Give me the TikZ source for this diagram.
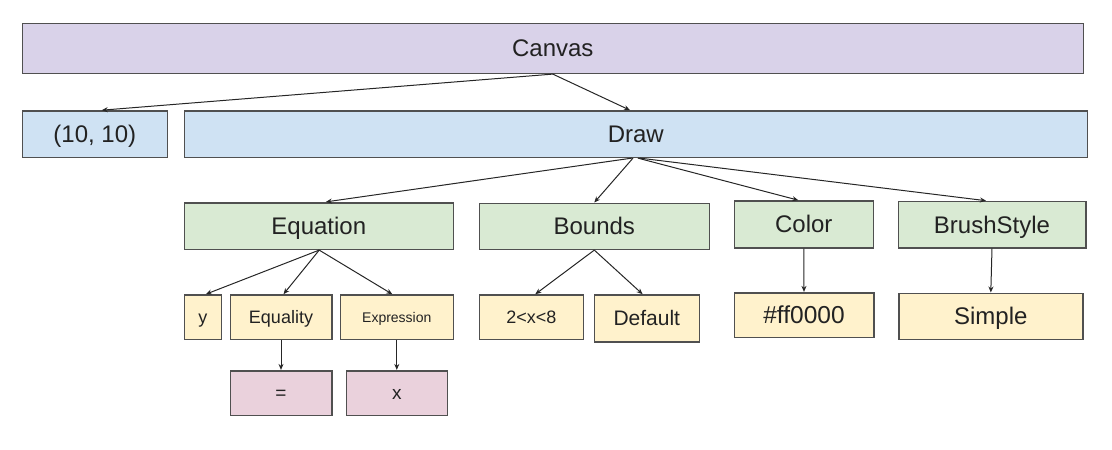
\documentclass[tikz,border=0pt]{standalone}
\usepackage{fontspec}
\setmainfont{Liberation Sans}
\usetikzlibrary{arrows.meta}
\definecolor{lav}{HTML}{D9D2E9}
\definecolor{blu}{HTML}{CFE2F3}
\definecolor{grn}{HTML}{D9EAD3}
\definecolor{yel}{HTML}{FFF2CC}
\definecolor{pnk}{HTML}{EAD1DC}
\definecolor{bordercol}{HTML}{505050}
\definecolor{txtcol}{HTML}{222222}
\newcommand\fs[1]{\fontsize{#1}{#1}\selectfont}
\newcommand\bx[8]{\node[#1, font=\fs{#2}, text height={0.716*#2pt}, text depth=0pt, minimum width={#5pt-#3pt}, minimum height={#6pt-#4pt}] (#7) at ({(#3+#5)/2},{-(#4+#6)/2}) {#8};}
\begin{document}
\begin{tikzpicture}[x=1pt,y=1pt,
  box/.style={draw=bordercol, line width=1.6pt, inner sep=0pt, text=txtcol},
  lavbox/.style={box, fill=lav},
  blubox/.style={box, fill=blu},
  grnbox/.style={box, fill=grn},
  yelbox/.style={box, fill=yel},
  pnkbox/.style={box, fill=pnk},
  arr/.style={draw=black!85, line width=1pt, -{Stealth[length=6pt,width=5pt]}}]
\useasboundingbox (0,0) rectangle (1112,-450);
% level 0
\bx{lavbox}{24}{22.3}{23.3}{1083.3}{73.3}{canvas}{Canvas}
% level 1
\bx{blubox}{24}{22.3}{111}{167.3}{157.3}{ten}{(10, 10)}
\bx{blubox}{24}{184.3}{111}{1087.3}{157.3}{drw}{Draw}
% level 2
\bx{grnbox}{24}{184.3}{202.7}{453.3}{249.3}{eq}{Equation}
\bx{grnbox}{24}{479.3}{203.3}{709.3}{249.3}{bounds}{Bounds}
\bx{grnbox}{24}{734.3}{201}{873.3}{247.7}{color}{Color}
\bx{grnbox}{24}{898.3}{201.5}{1085.7}{247.7}{brush}{BrushStyle}
% level 3
\bx{yelbox}{18}{184.3}{295}{221.3}{339.3}{ny}{y}
\bx{yelbox}{18}{230.3}{295}{331.7}{339.3}{equality}{Equality}
\bx{yelbox}{14}{340.3}{295}{453.3}{339.3}{expr}{Expression}
\bx{yelbox}{18}{479.3}{295}{583.3}{339.3}{lt}{2<x<8}
\bx{yelbox}{21}{594.3}{295}{699.3}{341.7}{def}{Default}
\bx{yelbox}{24.5}{734.3}{292.7}{873.7}{337.3}{hex}{\#ff0000}
\bx{yelbox}{24}{898.7}{293.3}{1082.9}{339.3}{simple}{Simple}
% level 4
\bx{pnkbox}{19}{230.3}{370.7}{331.7}{415.3}{eqsign}{=}
\bx{pnkbox}{19}{346.3}{370.7}{447.3}{415.3}{xnode}{x}
% connectors
\draw[arr] (canvas.south) -- ([xshift=6.9]ten.north);
\draw[arr] (canvas.south) -- ([xshift=-5.8]drw.north);
\draw[arr] ([xshift=-3.8]drw.south) -- ([xshift=7.1]eq.north);
\draw[arr] ([xshift=-2.8]drw.south) -- (bounds.north);
\draw[arr] ([xshift=2]drw.south) -- ([xshift=-5.5]color.north);
\draw[arr] ([xshift=4]drw.south) -- ([xshift=-6]brush.north);
\draw[arr] ([xshift=0.4]eq.south) -- ([xshift=3]ny.north);
\draw[arr] ([xshift=0.4]eq.south) -- ([xshift=2.5]equality.north);
\draw[arr] ([xshift=0.4]eq.south) -- ([xshift=-4.5]expr.north);
\draw[arr] (equality.south) -- (eqsign.north);
\draw[arr] (expr.south) -- (xnode.north);
\draw[arr] (bounds.south) -- ([xshift=4]lt.north);
\draw[arr] (bounds.south) -- ([xshift=-4.2]def.north);
\draw[arr] (color.south) -- (hex.north);
\draw[arr] (brush.south) -- (simple.north);
\end{tikzpicture}
\end{document}
